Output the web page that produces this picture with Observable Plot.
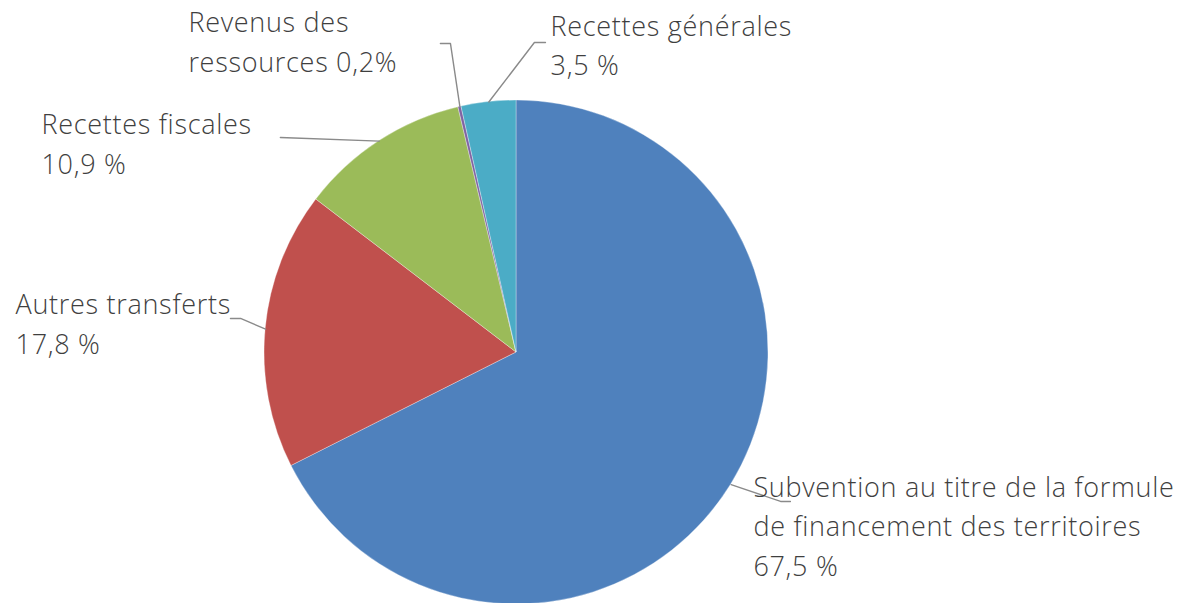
<!DOCTYPE html>
<html><head><meta charset="utf-8">
<script src="https://cdn.jsdelivr.net/npm/d3@7"></script>
<script src="https://cdn.jsdelivr.net/npm/@observablehq/plot@0.6"></script>
<style>body{margin:0;background:#fff;overflow:hidden}</style>
</head><body><div id="chart"></div>
<script>
// ---- data ----
const categories = ["Subvention au titre de la formule\nde financement des territoires", "Autres transferts", "Recettes fiscales", "Revenus des\nressources", "Recettes générales"];
const shares = [67.5, 17.8, 10.9, 0.2, 3.5];
const shareLabels = ["67,5 %", "17,8 %", "10,9 %", "0,2%", "3,5 %"];
const labelSeparators = ["\n", "\n", "\n", " ", "\n"];
const colors = ["#4F81BD", "#C0504D", "#9BBB59", "#8064A2", "#4BACC6"];

// ---- layout (unit-circle coordinates: pie centre = 0,0, radius = 1) ----
const leaderElbow = [[1.048, -0.591], [-1.095, 0.135], [-0.937, 0.853], [-0.262, 1.226], [0.071, 1.230]];
const leaderEndU = [1.087, -1.135, -0.937, -0.302, 0.115];
const labelAnchor = [[0.940, -0.885], [-1.988, -0.004], [-1.885, 0.710], [-1.302, 1.115], [0.135, 1.100]];

const arcs = d3.pie().sort(null).value(d => d)(shares);

const leaders = [];
arcs.forEach((a, i) => {
  const mid = (a.startAngle + a.endAngle) / 2;
  leaders.push({i, u: Math.sin(mid), v: Math.cos(mid)});
  leaders.push({i, u: leaderElbow[i][0], v: leaderElbow[i][1]});
  leaders.push({i, u: leaderEndU[i], v: leaderElbow[i][1]});
});

const labels = categories.map((c, i) => ({
  text: c + labelSeparators[i] + shareLabels[i],
  u: labelAnchor[i][0], v: labelAnchor[i][1]
}));

function pieMark(index, scales) {
  const cx = scales.x(0), cy = scales.y(0), r = scales.x(1) - cx;
  const g = d3.create("svg:g").attr("transform", `translate(${cx},${cy})`);
  const arc = d3.arc().innerRadius(0).outerRadius(r);
  g.selectAll("path").data(arcs).join("path")
    .attr("d", arc)
    .attr("fill", (d, i) => colors[i])
    .attr("stroke", "#ffffff")
    .attr("stroke-opacity", 0.8)
    .attr("stroke-width", 0.4)
    .attr("stroke-linejoin", "round");
  return g.node();
}

const chart = Plot.plot({
  width: 1179,
  height: 603,
  margin: 0,
  x: {domain: [-1, 1], range: [264, 768], axis: null},
  y: {domain: [-1, 1], range: [604, 100], axis: null},
  style: {background: "#fff", overflow: "visible", letterSpacing: "0.7px"},
  marks: [
    pieMark,
    Plot.line(leaders, {x: "u", y: "v", z: "i", stroke: "#8a8a8a", strokeWidth: 1.4, curve: "linear"}),
    Plot.text(labels, {
      x: "u", y: "v", text: "text",
      textAnchor: "start", lineAnchor: "bottom", lineHeight: 1.45,
      fontSize: 27, fontFamily: "Open Sans", fontWeight: 300, fill: "#3f3f3f"
    })
  ]
});
document.getElementById("chart").appendChild(chart);
</script>
</body></html>
